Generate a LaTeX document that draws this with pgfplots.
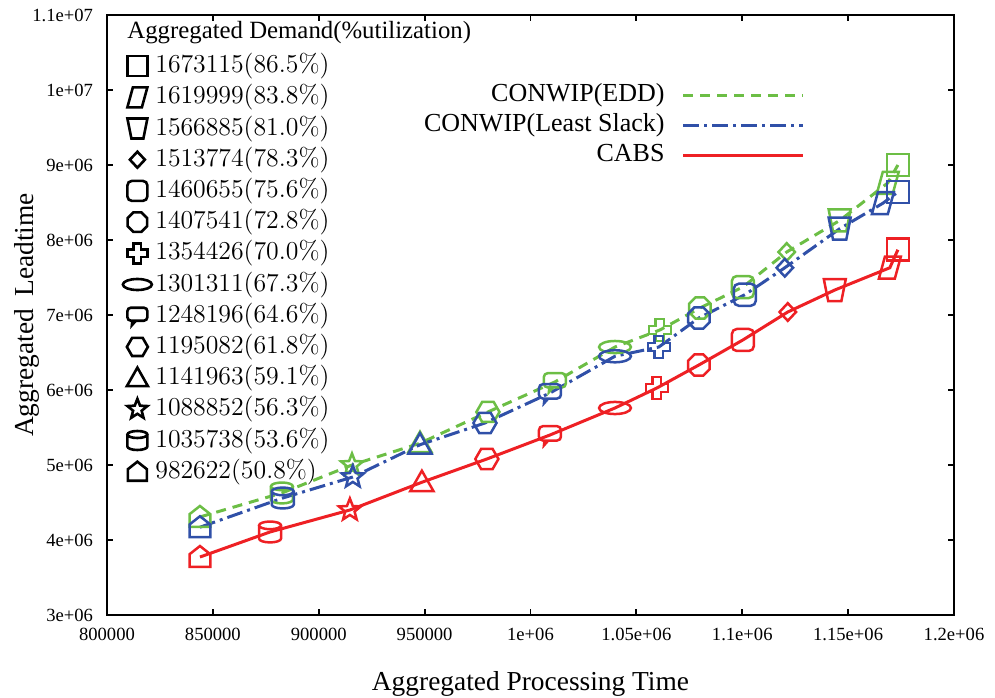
\documentclass[border=0pt]{standalone}
\usepackage{fix-cm}
\usepackage[no-math]{fontspec}
\setmainfont{Liberation Serif}
\usepackage{pgfplots}
\usepackage{pgfplotstable}
\pgfplotsset{compat=1.18}
\usetikzlibrary{calc}

\definecolor{eddgreen}{RGB}{108,190,69}
\definecolor{lsblue}{RGB}{48,80,168}
\definecolor{cabsred}{RGB}{238,32,36}

\newcommand{\R}{\pgfplotmarksize}
% rounded rectangle helper: #1 half width, #2 top, #3 bottom, #4 radius (factors of R)
\newcommand{\rrect}[4]{%
  \pgfpathmoveto{\pgfpoint{-#1\R+#4\R}{#2\R}}%
  \pgfpathlineto{\pgfpoint{#1\R-#4\R}{#2\R}}%
  \pgfpatharc{90}{0}{#4\R}%
  \pgfpathlineto{\pgfpoint{#1\R}{#3\R+#4\R}}%
  \pgfpatharc{0}{-90}{#4\R}%
  \pgfpathlineto{\pgfpoint{-#1\R+#4\R}{#3\R}}%
  \pgfpatharc{270}{180}{#4\R}%
  \pgfpathlineto{\pgfpoint{-#1\R}{#2\R-#4\R}}%
  \pgfpatharc{180}{90}{#4\R}%
  \pgfpathclose}
% square
\pgfdeclareplotmark{msq}{\pgfpathrectangle{\pgfpoint{-\R}{-\R}}{\pgfpoint{2\R}{2\R}}\pgfusepathqstroke}
% parallelogram
\pgfdeclareplotmark{mpar}{\pgfpathmoveto{\pgfpoint{-0.45\R}{\R}}\pgfpathlineto{\pgfpoint{\R}{\R}}\pgfpathlineto{\pgfpoint{0.45\R}{-\R}}\pgfpathlineto{\pgfpoint{-\R}{-\R}}\pgfpathclose\pgfusepathqstroke}
% trapezoid
\pgfdeclareplotmark{mtrap}{\pgfpathmoveto{\pgfpoint{-\R}{\R}}\pgfpathlineto{\pgfpoint{\R}{\R}}\pgfpathlineto{\pgfpoint{0.6\R}{-\R}}\pgfpathlineto{\pgfpoint{-0.6\R}{-\R}}\pgfpathclose\pgfusepathqstroke}
% diamond
\pgfdeclareplotmark{mdia}{\pgfpathmoveto{\pgfpoint{0pt}{0.8\R}}\pgfpathlineto{\pgfpoint{0.75\R}{0pt}}\pgfpathlineto{\pgfpoint{0pt}{-0.8\R}}\pgfpathlineto{\pgfpoint{-0.75\R}{0pt}}\pgfpathclose\pgfusepathqstroke}
% rounded square
\pgfdeclareplotmark{mrsq}{\rrect{1}{1}{-1}{0.45}\pgfusepathqstroke}
% octagon
\pgfdeclareplotmark{moct}{\pgfpathmoveto{\pgfpointpolar{22.5}{1.05\R}}\pgfpathlineto{\pgfpointpolar{67.5}{1.05\R}}\pgfpathlineto{\pgfpointpolar{112.5}{1.05\R}}\pgfpathlineto{\pgfpointpolar{157.5}{1.05\R}}\pgfpathlineto{\pgfpointpolar{202.5}{1.05\R}}\pgfpathlineto{\pgfpointpolar{247.5}{1.05\R}}\pgfpathlineto{\pgfpointpolar{292.5}{1.05\R}}\pgfpathlineto{\pgfpointpolar{337.5}{1.05\R}}\pgfpathclose\pgfusepathqstroke}
% fat cross
\pgfdeclareplotmark{mcross}{\pgfpathmoveto{\pgfpoint{-0.38\R}{\R}}\pgfpathlineto{\pgfpoint{0.38\R}{\R}}\pgfpathlineto{\pgfpoint{0.38\R}{0.38\R}}\pgfpathlineto{\pgfpoint{\R}{0.38\R}}\pgfpathlineto{\pgfpoint{\R}{-0.38\R}}\pgfpathlineto{\pgfpoint{0.38\R}{-0.38\R}}\pgfpathlineto{\pgfpoint{0.38\R}{-\R}}\pgfpathlineto{\pgfpoint{-0.38\R}{-\R}}\pgfpathlineto{\pgfpoint{-0.38\R}{-0.38\R}}\pgfpathlineto{\pgfpoint{-\R}{-0.38\R}}\pgfpathlineto{\pgfpoint{-\R}{0.38\R}}\pgfpathlineto{\pgfpoint{-0.38\R}{0.38\R}}\pgfpathclose\pgfusepathqstroke}
% ellipse
\pgfdeclareplotmark{mell}{\pgfpathellipse{\pgfpointorigin}{\pgfpoint{1.45\R}{0pt}}{\pgfpoint{0pt}{0.55\R}}\pgfusepathqstroke}
% speech bubble
\pgfdeclareplotmark{mspeech}{\rrect{1}{0.8}{-0.5}{0.35}\pgfpathmoveto{\pgfpoint{-0.5\R}{-0.5\R}}\pgfpathlineto{\pgfpoint{-0.55\R}{-0.95\R}}\pgfpathlineto{\pgfpoint{-0.15\R}{-0.5\R}}\pgfusepathqstroke}
% hexagon (flat top)
\pgfdeclareplotmark{mhex}{\pgfpathmoveto{\pgfpointpolar{0}{1.05\R}}\pgfpathlineto{\pgfpointpolar{60}{1.05\R}}\pgfpathlineto{\pgfpointpolar{120}{1.05\R}}\pgfpathlineto{\pgfpointpolar{180}{1.05\R}}\pgfpathlineto{\pgfpointpolar{240}{1.05\R}}\pgfpathlineto{\pgfpointpolar{300}{1.05\R}}\pgfpathclose\pgfusepathqstroke}
% triangle
\pgfdeclareplotmark{mtri}{\pgfpathmoveto{\pgfpoint{0pt}{1.05\R}}\pgfpathlineto{\pgfpoint{1.05\R}{-0.8\R}}\pgfpathlineto{\pgfpoint{-1.05\R}{-0.8\R}}\pgfpathclose\pgfusepathqstroke}
% star
\pgfdeclareplotmark{mstar}{\pgfpathmoveto{\pgfpointpolar{90}{1.05\R}}\pgfpathlineto{\pgfpointpolar{126}{0.45\R}}\pgfpathlineto{\pgfpointpolar{162}{1.05\R}}\pgfpathlineto{\pgfpointpolar{198}{0.45\R}}\pgfpathlineto{\pgfpointpolar{234}{1.05\R}}\pgfpathlineto{\pgfpointpolar{270}{0.45\R}}\pgfpathlineto{\pgfpointpolar{306}{1.05\R}}\pgfpathlineto{\pgfpointpolar{342}{0.45\R}}\pgfpathlineto{\pgfpointpolar{18}{1.05\R}}\pgfpathlineto{\pgfpointpolar{54}{0.45\R}}\pgfpathclose\pgfusepathqstroke}
% cylinder
\pgfdeclareplotmark{mcyl}{\pgfpathellipse{\pgfpoint{0pt}{0.6\R}}{\pgfpoint{\R}{0pt}}{\pgfpoint{0pt}{0.35\R}}\pgfpathmoveto{\pgfpoint{-\R}{0.6\R}}\pgfpathlineto{\pgfpoint{-\R}{-0.6\R}}\pgfpatharc{180}{360}{\R and 0.35\R}\pgfpathlineto{\pgfpoint{\R}{0.6\R}}\pgfusepathqstroke}
% house pentagon
\pgfdeclareplotmark{mpent}{\pgfpathmoveto{\pgfpoint{-0.95\R}{-0.9\R}}\pgfpathlineto{\pgfpoint{0.95\R}{-0.9\R}}\pgfpathlineto{\pgfpoint{0.95\R}{0.25\R}}\pgfpathlineto{\pgfpoint{0pt}{\R}}\pgfpathlineto{\pgfpoint{-0.95\R}{0.25\R}}\pgfpathclose\pgfusepathqstroke}

\pgfplotsset{
  shapeclasses/.style={scatter, scatter src=explicit symbolic,
    scatter/classes={pe={mark=mpent},cy={mark=mcyl},st={mark=mstar},tr={mark=mtri},
      hx={mark=mhex},sp={mark=mspeech},el={mark=mell},cr={mark=mcross},oc={mark=moct},
      rs={mark=mrsq},di={mark=mdia},tz={mark=mtrap},pa={mark=mpar},sq={mark=msq}}},
}

\pgfplotstableread{
x y c
843900 4307000 pe
882600 4627000 cy
915700 5000000 st
947800 5290000 tr
979900 5707000 hx
1011500 6107000 sp
1039900 6573000 el
1061100 6800000 cr
1080000 7093000 oc
1100300 7373000 rs
1121000 7840000 di
1146000 8260000 tz
1168700 8760000 pa
1173500 9000000 sq
}\edd
\pgfplotstableread{
x y c
843900 4170000 pe
883000 4560000 cy
916100 4840000 st
947800 5270000 tr
978500 5560000 hx
1009200 5960000 sp
1039900 6450000 el
1060600 6573000 cr
1079500 6960000 oc
1101200 7270000 rs
1120100 7630000 di
1146000 8150000 tz
1166400 8490000 pa
1173500 8640000 sq
}\lslack
\pgfplotstableread{
x y c
843900 3773000 pe
877000 4107000 cy
914700 4400000 st
948700 4770000 tr
979400 5080000 hx
1009200 5400000 sp
1039900 5760000 el
1059700 6027000 cr
1079500 6333000 oc
1100300 6667000 rs
1121500 7040000 di
1143700 7333000 tz
1169700 7630000 pa
1173500 7870000 sq
}\cabs

\begin{document}
\begin{tikzpicture}
\begin{axis}[
  name=main, scale only axis, width=423.5bp, height=300bp,
  xmin=800000, xmax=1200000, ymin=3000000, ymax=11000000,
  xtick={800000,850000,900000,950000,1000000,1050000,1100000,1150000,1200000},
  xticklabels={800000,850000,900000,950000,1e+06,1.05e+06,1.1e+06,1.15e+06,1.2e+06},
  ytick={3000000,4000000,5000000,6000000,7000000,8000000,9000000,10000000,11000000},
  yticklabels={3e+06,4e+06,5e+06,6e+06,7e+06,8e+06,9e+06,1e+07,1.1e+07},
  scaled ticks=false, tick align=inside, major tick length=3bp,
  axis line style={line width=1bp},
  every tick/.style={black, line width=0.9bp},
  ticklabel style={font=\fontsize{9.3bp}{11bp}\selectfont},
  xticklabel shift=3bp,
  yticklabel shift=3.5bp,
  label style={font=\fontsize{13.7bp}{16bp}\selectfont},
  xlabel={Aggregated Processing Time},
  ylabel={Aggregated\hspace{0.45em}Leadtime},
  xlabel style={at={(axis description cs:0.5,-0.115)}, anchor=center},
  ylabel style={at={(axis description cs:-0.094,0.5)}, anchor=center},
  legend style={at={(0.824,0.888)}, anchor=north east, draw=none, fill=none,
    inner sep=0pt, row sep=2.1bp, column sep=8.5bp,
    font=\fontsize{13bp}{15bp}\selectfont,
    nodes={inner sep=0pt, text height=9.6bp, text depth=3.3bp}},
  legend plot pos=right, legend cell align=right,
  legend image code/.code={\draw[#1] (0bp,0bp) -- (60bp,0bp);},
]
\addlegendimage{eddgreen, line width=1.5bp, dash pattern=on 5bp off 3.5bp}
\addlegendentry{CONWIP(EDD)}
\addlegendimage{lsblue, line width=1.5bp, dash pattern=on 8bp off 2.5bp on 1.5bp off 2.5bp}
\addlegendentry{CONWIP(Least Slack)}
\addlegendimage{cabsred, line width=1.5bp}
\addlegendentry{CABS}

\addplot[forget plot, eddgreen, line width=1.5bp, dash pattern=on 5bp off 3.5bp, shapeclasses,
  mark size=5.5bp, mark options={solid, draw=eddgreen, line width=1.25bp}]
  table[x=x, y=y, meta=c] {\edd};
\addplot[forget plot, lsblue, line width=1.5bp, dash pattern=on 8bp off 2.5bp on 1.5bp off 2.5bp, shapeclasses,
  mark size=5.5bp, mark options={solid, draw=lsblue, line width=1.25bp}]
  table[x=x, y=y, meta=c] {\lslack};
\addplot[forget plot, cabsred, line width=1.5bp, shapeclasses,
  mark size=5.5bp, mark options={solid, draw=cabsred, line width=1.25bp}]
  table[x=x, y=y, meta=c] {\cabs};
\end{axis}

\begin{axis}[
  scale only axis, width=423.5bp, height=300bp,
  xmin=800000, xmax=1200000, ymin=3000000, ymax=11000000,
  hide axis,
  legend style={at={(0.0236,0.937)}, anchor=north west, draw=none, fill=none,
    inner sep=0pt, row sep=2.7bp, column sep=4bp,
    font=\fontsize{12.9bp}{15bp}\selectfont,
    nodes={inner sep=0pt, text height=9.7bp, text depth=3.2bp}},
  legend cell align=left,
  legend image code/.code={\path[draw=none, fill=none] (-5bp,-5bp) rectangle (5bp,5bp);
    \draw[#1, overlay] plot[only marks] coordinates {(0bp,0bp)};},
]
\node[anchor=west, inner sep=0pt, font=\fontsize{12.4bp}{14bp}\selectfont]
  at (rel axis cs:0.0236,0.97) {Aggregated Demand(\%utilization)};
\addlegendimage{black, mark=msq, mark size=5bp, line width=1.3bp}
\addlegendentry{$1673115(86.5\%)$}
\addlegendimage{black, mark=mpar, mark size=5bp, line width=1.3bp}
\addlegendentry{$1619999(83.8\%)$}
\addlegendimage{black, mark=mtrap, mark size=5bp, line width=1.3bp}
\addlegendentry{$1566885(81.0\%)$}
\addlegendimage{black, mark=mdia, mark size=5bp, line width=1.3bp}
\addlegendentry{$1513774(78.3\%)$}
\addlegendimage{black, mark=mrsq, mark size=5bp, line width=1.3bp}
\addlegendentry{$1460655(75.6\%)$}
\addlegendimage{black, mark=moct, mark size=5bp, line width=1.3bp}
\addlegendentry{$1407541(72.8\%)$}
\addlegendimage{black, mark=mcross, mark size=5bp, line width=1.3bp}
\addlegendentry{$1354426(70.0\%)$}
\addlegendimage{black, mark=mell, mark size=5bp, line width=1.3bp}
\addlegendentry{$1301311(67.3\%)$}
\addlegendimage{black, mark=mspeech, mark size=5bp, line width=1.3bp}
\addlegendentry{$1248196(64.6\%)$}
\addlegendimage{black, mark=mhex, mark size=5bp, line width=1.3bp}
\addlegendentry{$1195082(61.8\%)$}
\addlegendimage{black, mark=mtri, mark size=5bp, line width=1.3bp}
\addlegendentry{$1141963(59.1\%)$}
\addlegendimage{black, mark=mstar, mark size=5bp, line width=1.3bp}
\addlegendentry{$1088852(56.3\%)$}
\addlegendimage{black, mark=mcyl, mark size=5bp, line width=1.3bp}
\addlegendentry{$1035738(53.6\%)$}
\addlegendimage{black, mark=mpent, mark size=5bp, line width=1.3bp}
\addlegendentry{$982622(50.8\%)$}
\end{axis}
\pgfresetboundingbox
\path ($(main.south west)+(-53.5bp,-41.5bp)$) rectangle ($(main.north east)+(20.5bp,7.5bp)$);
\end{tikzpicture}
\end{document}
